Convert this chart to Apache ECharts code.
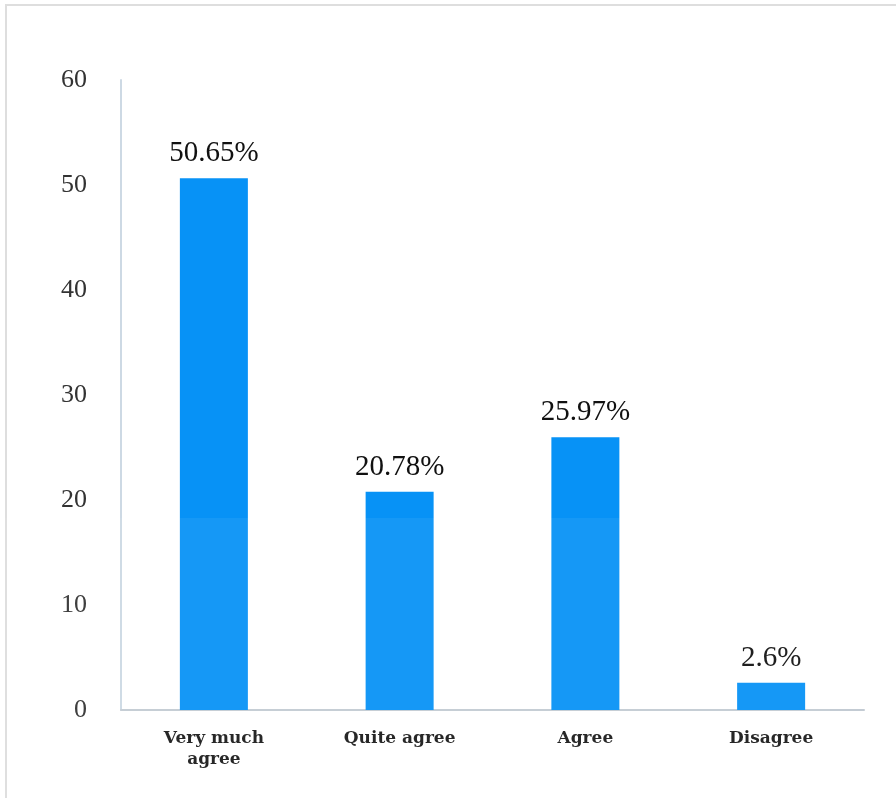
<!DOCTYPE html>
<html>
<head>
<meta charset="utf-8">
<script src="https://cdn.jsdelivr.net/npm/echarts@6/dist/echarts.min.js"></script>
<style>
  html, body { margin: 0; padding: 0; background: #ffffff; }
  #chart { width: 896px; height: 798px; }
</style>
</head>
<body>
<div id="chart"></div>
<script>
// Survey responses (percent of respondents)
const categories = ['Very much\nagree', 'Quite agree', 'Agree', 'Disagree'];
const percentages = [50.65, 20.78, 25.97, 2.6];
const yTicks = [0, 10, 20, 30, 40, 50, 60];

const SERIF = "'Liberation Serif', 'Times New Roman', Times, serif";

const chart = echarts.init(document.getElementById('chart'), null, { renderer: 'canvas' });

chart.setOption({
  backgroundColor: '#ffffff',
  animation: false,
  grid: { left: 121, right: 32, top: 80, bottom: 88 },
  xAxis: {
    type: 'category',
    data: categories,
    axisLine: { show: true, lineStyle: { color: '#c3cbd3', width: 2 } },
    axisTick: { show: false },
    axisLabel: {
      color: '#1a1a1a',
      fontFamily: "'DejaVu Serif', serif",
      fontWeight: 'bold',
      fontSize: 17,
      lineHeight: 21,
      margin: 18
    }
  },
  yAxis: {
    type: 'value',
    min: yTicks[0],
    max: yTicks[yTicks.length - 1],
    interval: 10,
    axisLine: { show: true, lineStyle: { color: '#cdd9e4', width: 2 } },
    axisTick: { show: false },
    splitLine: { show: false },
    axisLabel: {
      color: '#333333',
      fontFamily: SERIF,
      fontSize: 26,
      margin: 34
    }
  },
  series: [{
    type: 'bar',
    data: percentages,
    barWidth: 68,
    itemStyle: { color: '#0792f6' },
    label: {
      show: true,
      position: 'top',
      distance: 10,
      color: '#111111',
      fontFamily: SERIF,
      fontSize: 29,
      formatter: p => p.value + '%'
    }
  }],
  graphic: [
    {
      // thin page frame
      type: 'rect',
      shape: { x: 6, y: 5, width: 900, height: 800 },
      style: { fill: 'none', stroke: '#dedede', lineWidth: 2 },
      silent: true
    },
    {
      // faint pale band over the lower part of the page
      type: 'rect',
      z: 100,
      shape: { x: 0, y: 518, width: 830, height: 280 },
      style: { fill: 'rgba(255,255,255,0.06)' },
      silent: true
    }
  ]
});
</script>
</body>
</html>
